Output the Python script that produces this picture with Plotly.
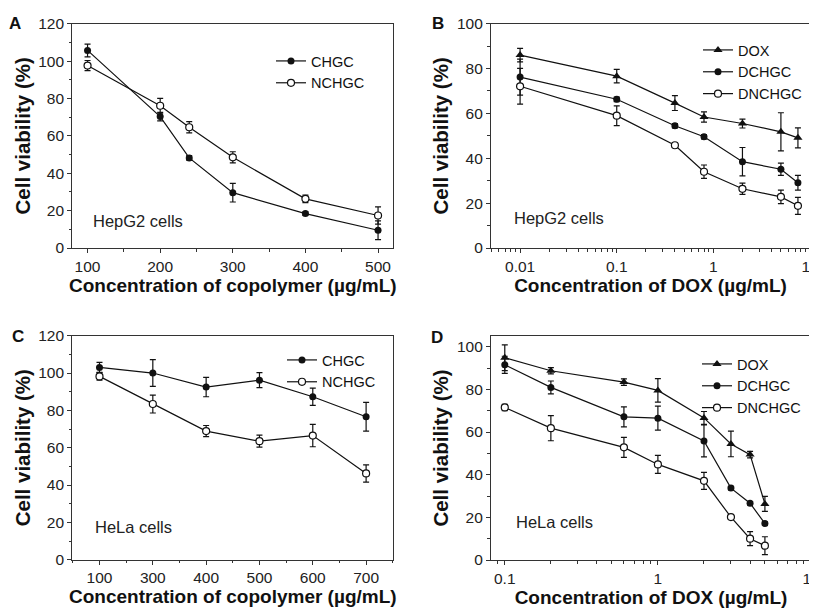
import plotly.graph_objects as go

# ---------------- data ----------------
# Panel A: HepG2, copolymer
conc_A = [100, 200, 240, 300, 400, 500]
chgc_A = [105.7, 70.3, 48.2, 29.6, 18.4, 9.5]
chgc_A_err = [3.4, 2.3, 1.2, 5.0, 1.0, 5.0]
nchgc_A = [97.6, 76.1, 64.6, 48.5, 26.3, 17.4]
nchgc_A_err = [2.7, 4.0, 3.0, 3.0, 2.0, 4.6]

# Panel B: HepG2, DOX
conc_B = [0.01, 0.1, 0.4, 0.8, 2, 5, 7.5]
dox_B = [86.0, 76.6, 64.6, 58.4, 55.5, 51.8, 49.1]
dox_B_err = [3.0, 3.0, 3.3, 2.3, 2.0, 8.5, 4.5]
dchgc_B = [76.2, 66.3, 54.5, 49.6, 38.5, 35.1, 29.1]
dchgc_B_err = [8.0, 1.0, 1.0, 1.0, 6.3, 2.7, 3.3]
dnchgc_B = [72.1, 59.0, 45.8, 34.0, 26.4, 22.8, 18.8]
dnchgc_B_err = [8.0, 4.4, 1.0, 3.0, 2.5, 3.0, 3.8]

# Panel C: HeLa, copolymer (equally spaced categories)
conc_C_labels = ["100", "300", "400", "500", "600", "700"]
chgc_C = [103.0, 100.0, 92.5, 96.2, 87.3, 76.6]
chgc_C_err = [2.7, 7.2, 5.2, 4.0, 4.6, 7.7]
nchgc_C = [98.2, 83.4, 68.9, 63.5, 66.5, 46.2]
nchgc_C_err = [2.0, 4.8, 3.0, 3.2, 6.0, 4.6]

# Panel D: HeLa, DOX
conc_D = [0.1, 0.2, 0.6, 1, 2, 3, 4, 5]
dox_D = [94.8, 88.7, 83.4, 79.5, 66.6, 54.4, 49.4, 26.3]
dox_D_err = [6.0, 1.5, 1.5, 5.5, 3.0, 6.0, 1.5, 3.5]
dchgc_D = [91.5, 80.9, 67.1, 66.5, 55.8, 33.7, 26.6, 17.1]
dchgc_D_err = [4.0, 3.0, 4.7, 5.6, 7.5, 0.8, 0.8, 0.8]
dnchgc_D = [71.5, 61.8, 52.8, 44.8, 37.1, 20.1, 10.0, 6.7]
dnchgc_D_err = [1.5, 5.9, 4.7, 4.2, 4.0, 1.0, 3.3, 4.2]

# ---------------- styling ----------------
PAGE_W, PAGE_H = 817, 608
BODY = 8  # default page body margin around the plot div
W, H = PAGE_W - BODY, PAGE_H - BODY
FONT = "Liberation Sans, Arial, sans-serif"
INK = "#111111"
FRAME = "#333333"


def fx(px):
    return (px - BODY) / W


def fy(py):
    return 1 - (py - BODY) / H


def px_x(a, b):
    return [fx(a), fx(b)]


def px_y(top, bottom):
    return [fy(bottom), fy(top)]


def trace(x, y, err, name, kind, xa, ya, legend):
    if kind == "tri":
        marker = dict(symbol="triangle-up", size=8, color=INK, line=dict(width=0))
    elif kind == "filled":
        marker = dict(symbol="circle", size=7, color=INK, line=dict(width=0))
    else:
        marker = dict(symbol="circle", size=7, color="white", line=dict(width=1.2, color=INK))
    return go.Scatter(
        x=x, y=y, name=name, mode="lines+markers",
        line=dict(color=INK, width=1.2), marker=marker,
        error_y=dict(type="data", array=err, visible=True, color=INK, thickness=1.2, width=3),
        xaxis=xa, yaxis=ya, legend=legend,
    )


fig = go.Figure()
idx_C = list(range(len(conc_C_labels)))

fig.add_trace(trace(conc_A, chgc_A, chgc_A_err, "CHGC", "filled", "x", "y", "legend"))
fig.add_trace(trace(conc_A, nchgc_A, nchgc_A_err, "NCHGC", "open", "x", "y", "legend"))

fig.add_trace(trace(conc_B, dox_B, dox_B_err, "DOX", "tri", "x2", "y2", "legend2"))
fig.add_trace(trace(conc_B, dchgc_B, dchgc_B_err, "DCHGC", "filled", "x2", "y2", "legend2"))
fig.add_trace(trace(conc_B, dnchgc_B, dnchgc_B_err, "DNCHGC", "open", "x2", "y2", "legend2"))

fig.add_trace(trace(idx_C, chgc_C, chgc_C_err, "CHGC", "filled", "x3", "y3", "legend3"))
fig.add_trace(trace(idx_C, nchgc_C, nchgc_C_err, "NCHGC", "open", "x3", "y3", "legend3"))

fig.add_trace(trace(conc_D, dox_D, dox_D_err, "DOX", "tri", "x4", "y4", "legend4"))
fig.add_trace(trace(conc_D, dchgc_D, dchgc_D_err, "DCHGC", "filled", "x4", "y4", "legend4"))
fig.add_trace(trace(conc_D, dnchgc_D, dnchgc_D_err, "DNCHGC", "open", "x4", "y4", "legend4"))

tickfont = dict(family=FONT, size=15.5, color="#222222")
xtitlefont = dict(family=FONT, size=19, color="#111111", weight="bold")
ytitlefont = dict(family=FONT, size=20.5, color="#111111", weight="bold")

common = dict(
    showline=True, linecolor=FRAME, linewidth=1.2, mirror=True,
    ticks="outside", ticklen=4, tickwidth=1.2, tickcolor=FRAME,
    showgrid=False, zeroline=False, tickfont=tickfont,
)
minor_style = dict(ticks="outside", ticklen=2.5, tickwidth=1, tickcolor=FRAME, showgrid=False)

ytitle = dict(text="Cell viability (%)", font=ytitlefont, standoff=2)

fig.update_layout(
    xaxis=dict(domain=px_x(72.3, 393.3), anchor="y", range=[79, 521], tickvals=[100, 200, 300, 400, 500],
               minor=dict(dtick=50, tick0=0, **minor_style),
               title=dict(text="Concentration of copolymer (µg/mL)", font=xtitlefont, standoff=4), **common),
    yaxis=dict(domain=px_y(23.7, 248), anchor="x", range=[0, 120], dtick=20,
               minor=dict(dtick=10, **minor_style), title=ytitle, **common),
    xaxis2=dict(domain=px_x(491, 810), anchor="y2", type="log", range=[-2.301, 1],
                tickvals=[0.01, 0.1, 1, 10], ticktext=["0.01", "0.1", "1", "10"], ticklabeloverflow="allow",
                minor=dict(tickvals=[a * b for b in (0.001, 0.01, 0.1, 1) for a in range(2, 10)], **minor_style),
                title=dict(text="Concentration of DOX (µg/mL)", font=xtitlefont, standoff=4), **common),
    yaxis2=dict(domain=px_y(23.7, 248), anchor="x2", range=[0, 100], dtick=20,
                minor=dict(dtick=10, **minor_style), title=ytitle, **common),
    xaxis3=dict(domain=px_x(72.3, 393.3), anchor="y3", range=[-0.51, 5.51],
                tickvals=idx_C, ticktext=conc_C_labels,
                minor=dict(dtick=0.5, tick0=0, **minor_style),
                title=dict(text="Concentration of copolymer (µg/mL)", font=xtitlefont, standoff=4), **common),
    yaxis3=dict(domain=px_y(335.7, 559.7), anchor="x3", range=[0, 120], dtick=20,
                minor=dict(dtick=10, **minor_style), title=ytitle, **common),
    xaxis4=dict(domain=px_x(491, 811), anchor="y4", type="log", range=[-1.09, 1],
                tickvals=[0.1, 1, 10], ticktext=["0.1", "1", "10"], ticklabeloverflow="allow",
                minor=dict(tickvals=[a * b for b in (0.01, 0.1, 1) for a in range(2, 10)], **minor_style),
                title=dict(text="Concentration of DOX (µg/mL)", font=xtitlefont, standoff=4), **common),
    yaxis4=dict(domain=px_y(336, 560), anchor="x4", range=[0, 105], dtick=20,
                minor=dict(dtick=10, **minor_style), title=ytitle, **common),
)

legend_common = dict(
    font=dict(family=FONT, size=14.5, color="#111111"), bgcolor="rgba(0,0,0,0)",
    xanchor="left", yanchor="top", tracegroupgap=0, itemwidth=30,
)
fig.update_layout(
    legend=dict(x=fx(271), y=fy(45), **legend_common),
    legend2=dict(x=fx(698), y=fy(34), **legend_common),
    legend3=dict(x=fx(282), y=fy(344), **legend_common),
    legend4=dict(x=fx(697), y=fy(348), **legend_common),
)

for t, x, y in [("A", 15, 24), ("B", 438, 24), ("C", 18, 336), ("D", 437, 337)]:
    fig.add_annotation(text=t, x=fx(x), y=fy(y), xref="paper", yref="paper", showarrow=False,
                       xanchor="center", yanchor="middle",
                       font=dict(family=FONT, size=17, color="#111111", weight="bold"))

for t, x, y in [("HepG2 cells", 90.7, 221), ("HepG2 cells", 512, 218), ("HeLa cells", 93, 527), ("HeLa cells", 514, 522)]:
    fig.add_annotation(text=t, x=fx(x), y=fy(y), xref="paper", yref="paper", showarrow=False,
                       xanchor="left", yanchor="middle",
                       font=dict(family=FONT, size=16.5, color="#222222"))

fig.update_layout(
    width=W, height=H, margin=dict(l=0, r=0, t=0, b=0, autoexpand=False),
    paper_bgcolor="white", plot_bgcolor="white", showlegend=True,
)

fig.write_html("out.html")
